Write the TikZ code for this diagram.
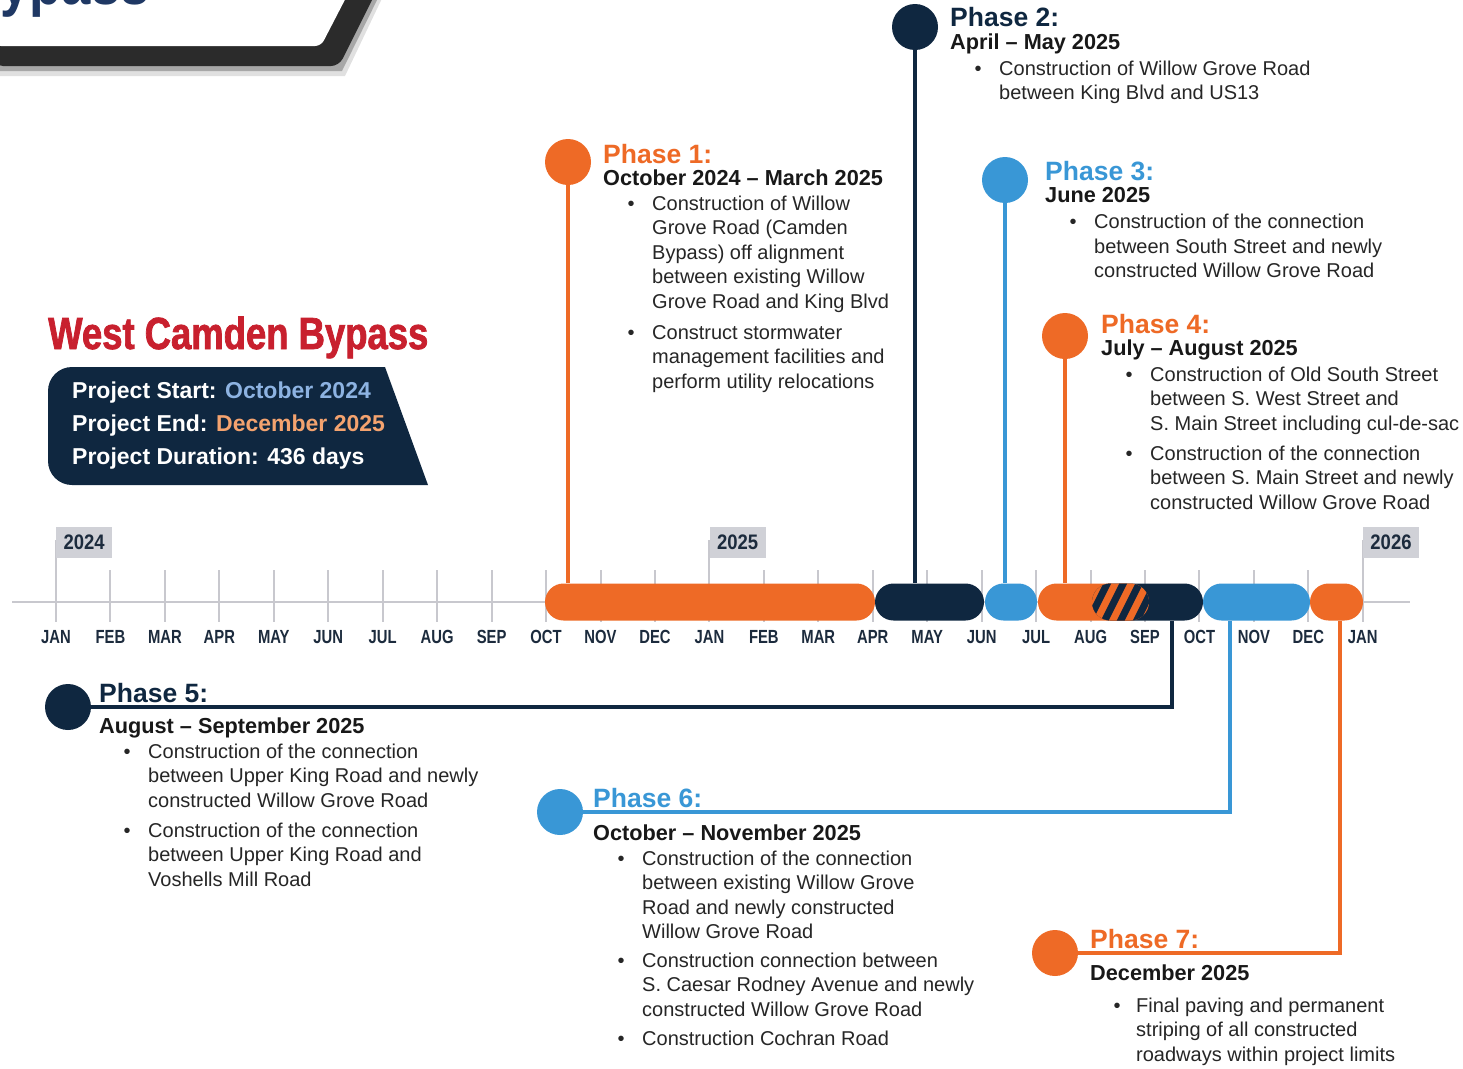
\documentclass[tikz,border=0pt]{standalone}
\usepackage{fontspec}
\setmainfont{Liberation Sans}
\newfontfamily\monthfont[FakeStretch=0.78]{Liberation Sans}
\newfontfamily\yearfont[FakeStretch=0.88]{Liberation Sans}
\newfontfamily\titlefont[FakeStretch=0.81,FakeBold=1.6]{Liberation Sans}
\newfontfamily\headerfont[FakeStretch=0.85]{Liberation Sans}
\definecolor{orng}{RGB}{238,106,38}
\definecolor{navy}{RGB}{15,39,64}
\definecolor{lblue}{RGB}{57,151,214}
\definecolor{tickc}{RGB}{200,200,206}
\definecolor{yearc}{RGB}{208,209,215}
\definecolor{monthc}{RGB}{28,43,61}
\definecolor{titlec}{RGB}{200,32,46}
\definecolor{startc}{RGB}{141,179,226}
\definecolor{endc}{RGB}{244,163,111}
\definecolor{bodyc}{RGB}{38,38,38}
\definecolor{datec}{RGB}{24,24,24}
\definecolor{shadowc}{RGB}{43,43,43}
\definecolor{hdrc}{RGB}{31,56,100}
\tikzset{
 body/.style={font=\fontsize{20}{24}\selectfont, text=bodyc, anchor=base west, inner sep=0pt},
 bul/.style={font=\fontsize{20}{24}\selectfont, text=bodyc, anchor=base, inner sep=0pt},
 phead/.style={font=\bfseries\fontsize{26.5}{30}\selectfont, anchor=base west, inner sep=0pt},
 pdate/.style={font=\bfseries\fontsize{21.7}{26}\selectfont, text=datec, anchor=base west, inner sep=0pt},
 pdot/.style={circle, minimum size=46pt, inner sep=0pt},
 stem/.style={line width=4.5pt},
 bar/.style={rectangle, rounded corners=18.5pt, minimum height=37pt, inner sep=0pt},
 tickline/.style={draw=tickc, line width=2pt},
 month/.style={font=\monthfont\bfseries\fontsize{19}{20}\selectfont, text=monthc, anchor=base, inner sep=0pt},
 yearbox/.style={fill=yearc, anchor=north west, minimum width=56pt, minimum height=31pt, inner sep=0pt,
   font=\yearfont\bfseries\fontsize{21}{22}\selectfont, text=monthc},
 infotext/.style={font=\bfseries\fontsize{23}{26}\selectfont, text=white, anchor=base west, inner sep=0pt},
}
\newcommand\blist[5]{%
  \node[bul] (#1) at (#2,#4) {•};
  \foreach \t [count=\k] in {#5} {\node[body] (#1-\k) at (#3,{#4+(\k-1)*24.5}) {\t};}
}
\begin{document}
\begin{tikzpicture}[x=1pt,y=-1pt]
\useasboundingbox (0,0) rectangle (1463,1068);
\fill[white] (0,0) rectangle (1463,1068);

% header piece (top-left)
\fill[black, opacity=0.12] (-5,-10) -- (386,-10) -- (345,76) -- (-5,76) -- cycle;
\fill[black, opacity=0.25] (-5,-10) -- (382,-10) -- (342,71) -- (-5,71) -- cycle;
\fill[shadowc, rounded corners=8pt] (-5,-10) -- (377,-10) -- (339,66) -- (-5,66) -- cycle;
\fill[white, rounded corners=6pt] (-5,-10) -- (350,-10) -- (321,46) -- (-5,46) -- cycle;
\begin{scope}
 \clip (-5,-10) -- (350,-10) -- (321,46) -- (-5,46) -- cycle;
 \node[anchor=base east, inner sep=0pt, text=hdrc, font=\headerfont\bfseries\fontsize{62}{64}\selectfont] (hdr) at (150,5) {Bypass};
\end{scope}

% title and project box
\node[anchor=base west, inner sep=0pt, text=titlec, font=\titlefont\bfseries\fontsize{45}{48}\selectfont] (title) at (48,349) {West Camden Bypass};
\fill[navy] (385,367) -- (428,485) [rounded corners=24pt] -- (48,485) -- (48,367) [sharp corners] -- cycle;
\node[infotext] (pstart) at (72,398) {Project Start: \textcolor{startc}{October 2024}};
\node[infotext] (pend) at (72,431) {Project End: \textcolor{endc}{December 2025}};
\node[infotext] (pdur) at (72,464) {Project Duration: 436 days};

% timeline axis
\draw[tickline, line width=2.5pt] (12,602) -- (1410,602);
\foreach \m [count=\i from 0] in {JAN,FEB,MAR,APR,MAY,JUN,JUL,AUG,SEP,OCT,NOV,DEC,JAN,FEB,MAR,APR,MAY,JUN,JUL,AUG,SEP,OCT,NOV,DEC,JAN} {
  \pgfmathsetmacro\xx{56+54.45*\i}
  \draw[tickline] (\xx,570) -- (\xx,622);
  \node[month] (m\i) at (\xx,643) {\m};
}
\foreach \yr/\i in {2024/0,2025/12,2026/24} {
  \pgfmathsetmacro\xx{56+54.45*\i}
  \draw[tickline] (\xx,540) -- (\xx,570);
  \node[yearbox] (y\yr) at (\xx,527) {\yr};
}

% phase bars
\node[bar, fill=orng, minimum width=330pt] (b1) at (710,602) {};
\node[bar, fill=navy, minimum width=109pt] (b2) at (929.5,602) {};
\node[bar, fill=lblue, minimum width=52pt] (b3) at (1011,602) {};
\node[bar, fill=orng, minimum width=111pt] (b4) at (1093.5,602) {};
\node[bar, fill=navy, minimum width=111pt] (b5) at (1147.5,602) {};
\node[bar, fill=lblue, minimum width=107pt] (b6) at (1256.5,602) {};
\node[bar, fill=orng, minimum width=53pt] (b7) at (1336.5,602) {};
\begin{scope}
 \clip[rounded corners=18.5pt] (1038,583.5) rectangle (1149,620.5);
 \clip[rounded corners=18.5pt] (1092,583.5) rectangle (1203,620.5);
 \fill[orng] (1080,578) rectangle (1160,626);
 \foreach \s in {1070,1086,...,1160} {\draw[navy, line width=7pt] (\s,626) -- (\s+24,578);}
\end{scope}

% top phases: dots and stems
\node[pdot, fill=orng] (c1) at (568,162) {};
\node[pdot, fill=navy] (c2) at (915,27) {};
\node[pdot, fill=lblue] (c3) at (1005,180) {};
\node[pdot, fill=orng] (c4) at (1065,336) {};
\draw[stem, orng] (c1) -- (c1 |- b1.north);
\draw[stem, navy] (c2) -- (c2 |- b2.north);
\draw[stem, lblue] (c3) -- (c3 |- b3.north);
\draw[stem, orng] (c4) -- (c4 |- b4.north);

% bottom phases: dots and elbow connectors
\node[pdot, fill=navy] (c5) at (68,707) {};
\node[pdot, fill=lblue] (c6) at (560,812) {};
\node[pdot, fill=orng] (c7) at (1055,953) {};
\coordinate (k5) at (1172,707);
\coordinate (k6) at (1230,812);
\coordinate (k7) at (1340,953);
\draw[stem, navy] (b5.south -| k5) -- (k5) -- (c5);
\draw[stem, lblue] (b6.south -| k6) -- (k6) -- (c6);
\draw[stem, orng] (b7.south -| k7) -- (k7) -- (c7);

% Phase 1
\node[phead, text=orng] (h1) at (603,163) {Phase 1:};
\node[pdate] (d1) at (603,185) {October 2024 – March 2025};
\blist{p1a}{631}{652}{210}{{Construction of Willow},{Grove Road (Camden},{Bypass) off alignment},{between existing Willow},{Grove Road and King Blvd}}
\blist{p1b}{631}{652}{339}{{Construct stormwater},{management facilities and},{perform utility relocations}}

% Phase 2
\node[phead, text=navy] (h2) at (950,27) {Phase 2:};
\node[pdate] (d2) at (950,49) {April – May 2025};
\blist{p2a}{978}{999}{75}{{Construction of Willow Grove Road},{between King Blvd and US13}}

% Phase 3
\node[phead, text=lblue] (h3) at (1045,180.5) {Phase 3:};
\node[pdate] (d3) at (1045,202.5) {June 2025};
\blist{p3a}{1073}{1094}{228.5}{{Construction of the connection},{between South Street and newly},{constructed Willow Grove Road}}

% Phase 4
\node[phead, text=orng] (h4) at (1101,333) {Phase 4:};
\node[pdate] (d4) at (1101,355) {July – August 2025};
\blist{p4a}{1129}{1150}{381}{{Construction of Old South Street},{between S. West Street and},{S. Main Street including cul-de-sac}}
\blist{p4b}{1129}{1150}{460}{{Construction of the connection},{between S. Main Street and newly},{constructed Willow Grove Road}}

% Phase 5
\node[phead, text=navy] (h5) at (99,702) {Phase 5:};
\node[pdate] (d5) at (99,733) {August – September 2025};
\blist{p5a}{127}{148}{758}{{Construction of the connection},{between Upper King Road and newly},{constructed Willow Grove Road}}
\blist{p5b}{127}{148}{837}{{Construction of the connection},{between Upper King Road and},{Voshells Mill Road}}

% Phase 6
\node[phead, text=lblue] (h6) at (593,807) {Phase 6:};
\node[pdate] (d6) at (593,840) {October – November 2025};
\blist{p6a}{621}{642}{865}{{Construction of the connection},{between existing Willow Grove},{Road and newly constructed},{Willow Grove Road}}
\blist{p6b}{621}{642}{967}{{Construction connection between},{S. Caesar Rodney Avenue and newly},{constructed Willow Grove Road}}
\blist{p6c}{621}{642}{1045.5}{{Construction Cochran Road}}

% Phase 7
\node[phead, text=orng] (h7) at (1090,948) {Phase 7:};
\node[pdate] (d7) at (1090,980) {December 2025};
\blist{p7a}{1117}{1136}{1012}{{Final paving and permanent},{striping of all constructed},{roadways within project limits}}
\end{tikzpicture}
\end{document}
